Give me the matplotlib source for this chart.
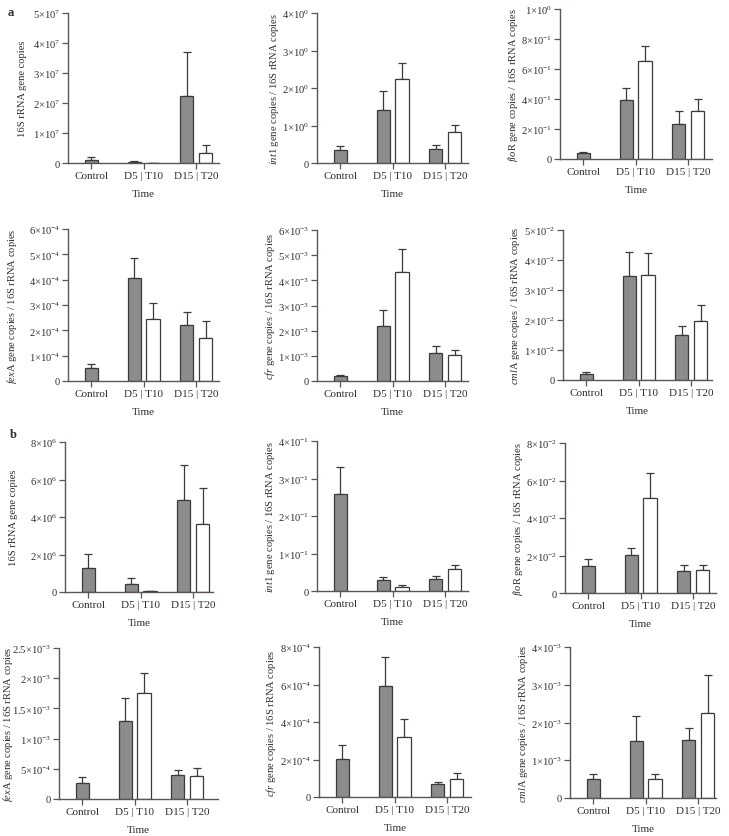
import numpy as np
import matplotlib
matplotlib.use("Agg")
import matplotlib.pyplot as plt

plt.rcParams['font.family'] = ['Liberation Serif', 'DejaVu Serif']
plt.rcParams['mathtext.fontset'] = 'custom'
plt.rcParams['mathtext.rm'] = 'Liberation Serif'
plt.rcParams['mathtext.it'] = 'Liberation Serif:italic'
plt.rcParams['mathtext.bf'] = 'Liberation Serif:bold'

groups = ['Control', 'D5 | T10', 'D15 | T20']

# ---- panel a (grey: Control, D5, D15; white: D5, D15) ----
a_16s_grey = [1.0e6, 0.3e6, 2.24e7]
a_16s_grey_err = [0.9e6, 0.28e6, 1.45e7]
a_16s_white = [0.05e6, 0.32e7]
a_16s_white_err = [0.03e6, 0.28e7]

a_int1_grey = [0.35, 1.42, 0.38]
a_int1_grey_err = [0.10, 0.49, 0.11]
a_int1_white = [2.245, 0.82]
a_int1_white_err = [0.43, 0.20]

a_flor_grey = [0.040, 0.393, 0.236]
a_flor_grey_err = [0.009, 0.078, 0.086]
a_flor_white = [0.653, 0.320]
a_flor_white_err = [0.098, 0.080]

a_fexa_grey = [0.53e-4, 4.06e-4, 2.22e-4]
a_fexa_grey_err = [0.13e-4, 0.79e-4, 0.51e-4]
a_fexa_white = [2.44e-4, 1.68e-4]
a_fexa_white_err = [0.63e-4, 0.68e-4]

a_cfr_grey = [0.18e-3, 2.20e-3, 1.10e-3]
a_cfr_grey_err = [0.06e-3, 0.63e-3, 0.28e-3]
a_cfr_white = [4.34e-3, 1.03e-3]
a_cfr_white_err = [0.90e-3, 0.21e-3]

a_cmla_grey = [0.20e-2, 3.46e-2, 1.49e-2]
a_cmla_grey_err = [0.07e-2, 0.82e-2, 0.32e-2]
a_cmla_white = [3.49e-2, 1.96e-2]
a_cmla_white_err = [0.74e-2, 0.55e-2]

# ---- panel b ----
b_16s_grey = [1.26e6, 0.41e6, 4.91e6]
b_16s_grey_err = [0.77e6, 0.34e6, 1.86e6]
b_16s_white = [0.05e6, 3.61e6]
b_16s_white_err = [0.03e6, 1.94e6]

b_int1_grey = [2.58e-1, 0.29e-1, 0.33e-1]
b_int1_grey_err = [0.72e-1, 0.08e-1, 0.08e-1]
b_int1_white = [0.12e-1, 0.58e-1]
b_int1_white_err = [0.04e-1, 0.11e-1]

b_flor_grey = [1.46e-2, 2.03e-2, 1.18e-2]
b_flor_grey_err = [0.34e-2, 0.39e-2, 0.34e-2]
b_flor_white = [5.08e-2, 1.23e-2]
b_flor_white_err = [1.32e-2, 0.27e-2]

b_fexa_grey = [0.26e-3, 1.29e-3, 0.40e-3]
b_fexa_grey_err = [0.10e-3, 0.38e-3, 0.08e-3]
b_fexa_white = [1.75e-3, 0.375e-3]
b_fexa_white_err = [0.34e-3, 0.145e-3]

b_cfr_grey = [2.02e-4, 5.93e-4, 0.71e-4]
b_cfr_grey_err = [0.76e-4, 1.52e-4, 0.10e-4]
b_cfr_white = [3.19e-4, 0.97e-4]
b_cfr_white_err = [0.95e-4, 0.30e-4]

b_cmla_grey = [0.50e-3, 1.51e-3, 1.53e-3]
b_cmla_grey_err = [0.14e-3, 0.65e-3, 0.32e-3]
b_cmla_white = [0.50e-3, 2.24e-3]
b_cmla_white_err = [0.14e-3, 1.01e-3]

ylabels = [
    '16S rRNA gene copies',
    r'$\mathit{int1}$ gene copies / 16S rRNA copies',
    r'$\mathit{flo}$R gene copies / 16S rRNA copies',
    r'$\mathit{fex}$A gene copies / 16S rRNA copies',
    r'$\mathit{cfr}$ gene copies / 16S rRNA copies',
    r'$\mathit{cml}$A gene copies / 16S rRNA copies',
]

# y-axis ranges (max, step)
a_ymax = [5e7, 4.0, 1.0, 6e-4, 6e-3, 5e-2]
a_ystep = [1e7, 1.0, 0.2, 1e-4, 1e-3, 1e-2]
b_ymax = [8e6, 4e-1, 8e-2, 2.5e-3, 8e-4, 4e-3]
b_ystep = [2e6, 1e-1, 2e-2, 5e-4, 2e-4, 1e-3]

panels = [
    (a_16s_grey, a_16s_grey_err, a_16s_white, a_16s_white_err),
    (a_int1_grey, a_int1_grey_err, a_int1_white, a_int1_white_err),
    (a_flor_grey, a_flor_grey_err, a_flor_white, a_flor_white_err),
    (a_fexa_grey, a_fexa_grey_err, a_fexa_white, a_fexa_white_err),
    (a_cfr_grey, a_cfr_grey_err, a_cfr_white, a_cfr_white_err),
    (a_cmla_grey, a_cmla_grey_err, a_cmla_white, a_cmla_white_err),
    (b_16s_grey, b_16s_grey_err, b_16s_white, b_16s_white_err),
    (b_int1_grey, b_int1_grey_err, b_int1_white, b_int1_white_err),
    (b_flor_grey, b_flor_grey_err, b_flor_white, b_flor_white_err),
    (b_fexa_grey, b_fexa_grey_err, b_fexa_white, b_fexa_white_err),
    (b_cfr_grey, b_cfr_grey_err, b_cfr_white, b_cfr_white_err),
    (b_cmla_grey, b_cmla_grey_err, b_cmla_white, b_cmla_white_err),
]
ymaxs = a_ymax + b_ymax
ysteps = a_ystep + b_ystep

# axes boxes in pixels: left, top, zero-line, right
boxes = [
    (68, 14, 164, 219), (317, 14, 164, 468), (560, 10, 160, 712),
    (68, 230, 382, 219), (317, 231, 382, 468), (563, 231, 381, 712),
    (65, 443, 593, 213), (317, 442, 592, 468), (565, 444, 594, 716),
    (59, 649, 800, 218), (319, 648, 798, 471), (570, 648, 799, 716),
]
# x pixel of y-label centre
ylabel_x = [22, 277, 518, 12, 273, 515, 14, 273, 518, 10, 273, 523]

W, H = 729, 837
fig = plt.figure(figsize=(W / 100, H / 100), dpi=100)

GREY = '#8c8c8c'
EDGE = '#3b3b3b'
SPINE = '#5b5555'
TXT = '#2e2e2e'
FS = 8


def sci_label(v):
    if v == 0:
        return '0'
    e = int(np.floor(np.log10(abs(v)) + 1e-9))
    m = v / 10 ** e
    ms = ('%.1f' % m).rstrip('0').rstrip('.')
    return r'$%s{\times}10^{%d}$' % (ms, e)


spacing_px = 52.5
bw = 0.25
off = 0.18
xpos = np.arange(len(groups))
axes = []

for i, ((g, ge, w, we), box) in enumerate(zip(panels, boxes)):
    l, t, z, r = box
    ax = fig.add_axes([l / W, 1 - z / H, (r - l) / W, (z - t) / H])
    axes.append(ax)
    gx = [xpos[0], xpos[1] - off, xpos[2] - off]
    wx = [xpos[1] + off, xpos[2] + off]
    ax.bar(gx, g, width=bw, color=GREY, edgecolor=EDGE, linewidth=0.9, zorder=2)
    ax.bar(wx, w, width=bw, color='white', edgecolor=EDGE, linewidth=0.9, zorder=2)
    ax.errorbar(gx, g, yerr=[np.zeros(len(g)), ge], fmt='none', ecolor=EDGE,
                elinewidth=0.9, capsize=3.2, capthick=0.9, zorder=1)
    ax.errorbar(wx, w, yerr=[np.zeros(len(w)), we], fmt='none', ecolor=EDGE,
                elinewidth=0.9, capsize=3.2, capthick=0.9, zorder=1)
    ax.set_xlim(-0.44, (r - l) / spacing_px - 0.44)
    ax.set_ylim(0, ymaxs[i])
    ticks = np.arange(0, ymaxs[i] + ysteps[i] * 0.5, ysteps[i])
    ax.set_yticks(ticks)
    ax.set_yticklabels([sci_label(v) for v in ticks])
    ax.set_xticks(xpos)
    ax.set_xticklabels(groups)
    for s in ['top', 'right']:
        ax.spines[s].set_visible(False)
    for s in ['left', 'bottom']:
        ax.spines[s].set_color(SPINE)
        ax.spines[s].set_linewidth(1.0)
    ax.tick_params(axis='both', direction='out', length=4, width=0.9,
                   color=SPINE, labelsize=FS, labelcolor=TXT, pad=2)
    ax.tick_params(axis='y', labelsize=7.6, pad=1.5)
    ax.set_xlabel('Time', fontsize=FS, color=TXT, labelpad=6)
    ax.set_ylabel(ylabels[i % 6], fontsize=7.6, color=TXT)
    ax.yaxis.label.set_va('center')

# place y-labels near reference positions without touching tick labels
fig.canvas.draw()
renderer = fig.canvas.get_renderer()
for i, ax in enumerate(axes):
    l, t, z, r = boxes[i]
    tl_left = min(lbl.get_window_extent(renderer).x0
                  for lbl in ax.get_yticklabels())
    lab_w = ax.yaxis.label.get_window_extent(renderer).width
    max_centre = tl_left - 1.5 - lab_w / 2
    centre = min(ylabel_x[i], max_centre)
    centre = max(centre, lab_w / 2 + 0.5)
    ax.yaxis.set_label_coords((centre - l) / (r - l), 0.5)

fig.text(8 / W, 1 - 13 / H, 'a', fontsize=9, fontweight='bold', color=TXT,
         ha='left', va='center')
fig.text(10 / W, 1 - 435 / H, 'b', fontsize=9, fontweight='bold', color=TXT,
         ha='left', va='center')

fig.savefig('out.png', dpi=100)
